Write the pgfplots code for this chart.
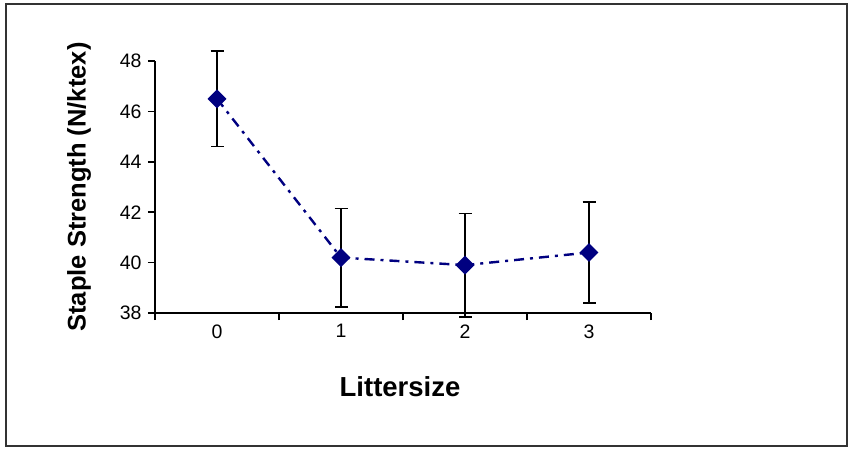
\documentclass[border=0pt]{standalone}
\usepackage{fontspec}
\setmainfont{Liberation Sans}
\usepackage{pgfplots}
\pgfplotsset{compat=1.18}
\definecolor{navy}{RGB}{0,0,128}
\begin{document}
\begin{tikzpicture}[x=1pt,y=1pt]
\useasboundingbox (0,0) rectangle (851,450);
\draw[line width=2pt, draw=black!80] (6,4) rectangle (847,446);
\begin{axis}[
 at={(155pt,137pt)}, anchor=south west,
 scale only axis, width=496pt, height=252pt,
 xmin=-0.5, xmax=3.5, ymin=38, ymax=48,
 clip=false,
 axis lines*=left,
 axis line style={line width=1.6pt, black},
 tick style={line width=1.6pt, black},
 xtick={-0.5,0.5,1.5,2.5,3.5}, xticklabels={},
 extra x ticks={0,1,2,3},
 extra x tick labels={0,1,2,3},
 extra x tick style={major tick length=0pt, tick style={draw=none}},
 ytick={38,40,...,48},
 tick align=outside, major tick length=7pt,
 ticklabel style={font=\fontsize{19.5}{21}\selectfont},
 /pgf/number format/assume math mode=true,
 xticklabel style={yshift=-8pt},
 yticklabel style={xshift=-3pt},
 xlabel={\textbf{Littersize}},
 ylabel={\textbf{Staple Strength (N/ktex)}},
 every axis x label/.style={at={(axis description cs:0.494,-0.294)}, anchor=center, font=\fontsize{27.5}{29}\selectfont},
 every axis y label/.style={at={(axis description cs:-0.153,0.5)}, rotate=90, anchor=center, font=\fontsize{25.5}{27}\selectfont},
]
\addplot[color=navy, line width=2.4pt, dash pattern=on 10pt off 6pt on 3pt off 6pt,
  mark=square*, mark size=5.5pt, mark options={rotate=45, solid, fill=navy, draw=navy},
  error bars/.cd, y dir=both, y explicit,
  error bar style={black, line width=1.6pt, solid},
  error mark options={black, line width=1.6pt, mark size=6.5pt, solid, rotate=90}]
 coordinates {
 (0,46.5) +- (0,1.9)
 (1,40.2) +- (0,1.95)
 (2,39.9) +- (0,2.05)
 (3,40.4) +- (0,2.0)
 };
\end{axis}
\end{tikzpicture}
\end{document}
